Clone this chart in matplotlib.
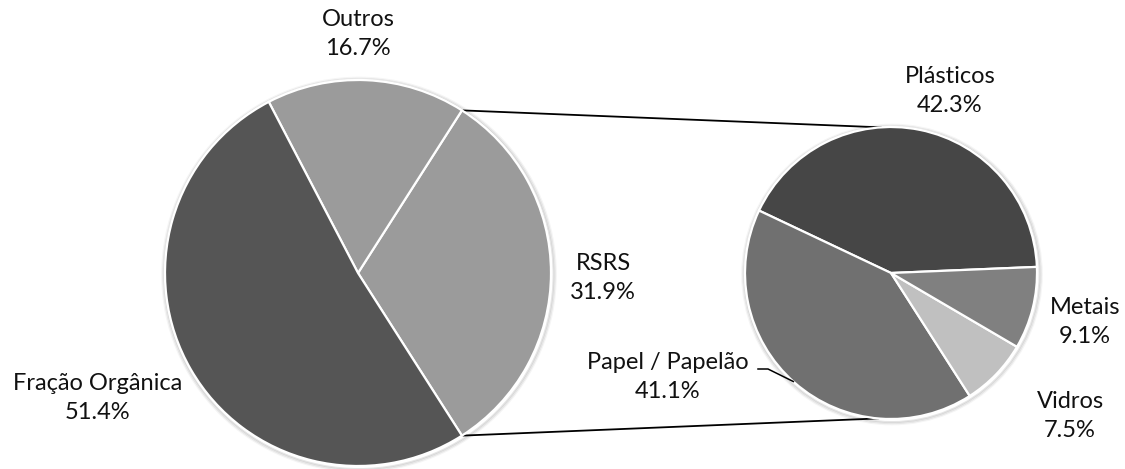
import numpy as np
import matplotlib.pyplot as plt
from matplotlib.patches import Circle

# Composição dos resíduos (pizza principal) e detalhe dos RSRS (pizza secundária)
main_labels = ["RSRS", "Outros", "Fração Orgânica"]
main_values = [31.9, 16.7, 51.4]
main_colors = ["#9b9b9b", "#9b9b9b", "#555555"]

sub_labels = ["Plásticos", "Papel / Papelão", "Vidros", "Metais"]
sub_values = [42.3, 41.1, 7.5, 9.1]
sub_colors = ["#464646", "#707070", "#c0c0c0", "#808080"]

W, H = 1125, 469
plt.rcParams["font.family"] = ["Lato", "DejaVu Sans"]

fig = plt.figure(figsize=(W / 100, H / 100), dpi=100)
ax = fig.add_axes([0, 0, 1, 1])

c1, r1 = (358, H - 273), 193
c2, r2 = (891, H - 273), 146

main_start = -main_values[0] / 100 * 180
sub_start = 2.4


def shadow(center, radius):
    for k, a in enumerate([0.10, 0.07, 0.04]):
        ax.add_patch(Circle((center[0] + 1, center[1] - 1.5), radius + 1.5 + k * 1.2,
                            facecolor="none", edgecolor="black", lw=1.4, alpha=a, zorder=1))


shadow(c1, r1)
shadow(c2, r2)

ax.pie(main_values, colors=main_colors, startangle=main_start, counterclock=True,
       center=c1, radius=r1, wedgeprops=dict(edgecolor="white", linewidth=1.6),
       frame=True)
ax.pie(sub_values, colors=sub_colors, startangle=sub_start, counterclock=True,
       center=c2, radius=r2, wedgeprops=dict(edgecolor="white", linewidth=1.6),
       frame=True)
ax.set_xlim(0, W)
ax.set_ylim(0, H)
ax.set_aspect("equal")
ax.axis("off")


def on_circle(center, radius, deg):
    t = np.deg2rad(deg)
    return center[0] + radius * np.cos(t), center[1] + radius * np.sin(t)


# linhas de ligação entre a fatia RSRS e a pizza secundária
a_top = main_start + main_values[0] / 100 * 360
p1 = on_circle(c1, r1, a_top)
q1 = on_circle(c2, r2, 94)
p2 = on_circle(c1, r1, main_start)
q2 = on_circle(c2, r2, 265)
ax.plot([p1[0], q1[0]], [p1[1], q1[1]], color="black", lw=1.3, zorder=0)
ax.plot([p2[0], q2[0]], [p2[1], q2[1]], color="black", lw=1.3, zorder=0)

fs = 17
label_pos = {
    "Outros": (358, 34),
    "RSRS": (603, 278),
    "Fração Orgânica": (98, 398),
    "Plásticos": (950, 91),
    "Metais": (1085, 322),
    "Vidros": (1070, 416),
    "Papel / Papelão": (668, 377),
}
for lab, val in list(zip(main_labels, main_values)) + list(zip(sub_labels, sub_values)):
    x, y = label_pos[lab]
    ax.text(x, H - y, f"{lab}\n{val:.1f}%", ha="center", va="center",
            fontsize=fs, color="#111111", linespacing=1.45)

# linha guia do rótulo Papel / Papelão
edge = on_circle(c2, r2, 228)
ax.plot([758, 768, edge[0]], [H - 369, H - 369, edge[1]], color="black", lw=1.1, zorder=5)

fig.savefig("out.png", dpi=100)
